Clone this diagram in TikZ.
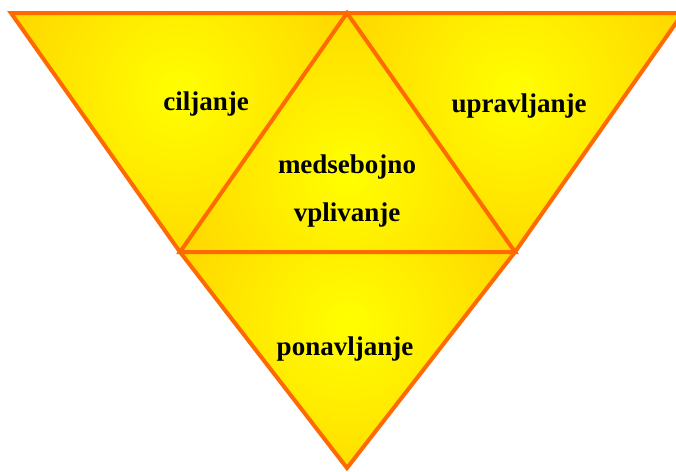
\documentclass[tikz,border=0pt]{standalone}
\usepackage{fontspec}
\setmainfont{Liberation Serif}
\usepackage{xcolor}
\definecolor{edgeorange}{HTML}{FF6A00}
\definecolor{gold}{HTML}{FFCC00}
\definecolor{brightyellow}{HTML}{FFFF00}
\begin{document}
\begin{tikzpicture}[x=1pt,y=-1pt, edge/.style={draw=edgeorange,line width=4pt}, glow/.style={inner color=brightyellow,outer color=gold}, lbl/.style={font=\bfseries\fontsize{27}{48}\selectfont,align=center,inner sep=0pt}]
\useasboundingbox (0,0) rectangle (676,471);
\coordinate (tl) at (11,13);
\coordinate (tm) at (347,13);
\coordinate (tr) at (683,13);
\coordinate (ml) at (180,252);
\coordinate (mr) at (515,252);
\coordinate (b) at (347,468);
% shaded triangles
\foreach \a/\b/\c in {tl/tm/ml, tm/tr/mr, ml/mr/b, tm/ml/mr}{
  \begin{scope}
    \clip (\a) -- (\b) -- (\c) -- cycle;
    \shade[glow] (barycentric cs:\a=1,\b=1,\c=1) circle[radius=230pt];
  \end{scope}
}
% outlines
\draw[edge] (tl) -- (tr) -- (mr) -- (b) -- (ml) -- cycle;
\draw[edge] (tm) -- (ml) -- (mr) -- cycle;
% labels
\node[lbl,anchor=base] (ciljanje) at (206,110) {ciljanje};
\node[lbl,anchor=base] (upravljanje) at (519,112) {upravljanje};
\node[lbl] (medsebojno) at (347,191) {medsebojno\\vplivanje};
\node[lbl,anchor=base] (ponavljanje) at (345,355) {ponavljanje};
\end{tikzpicture}
\end{document}
